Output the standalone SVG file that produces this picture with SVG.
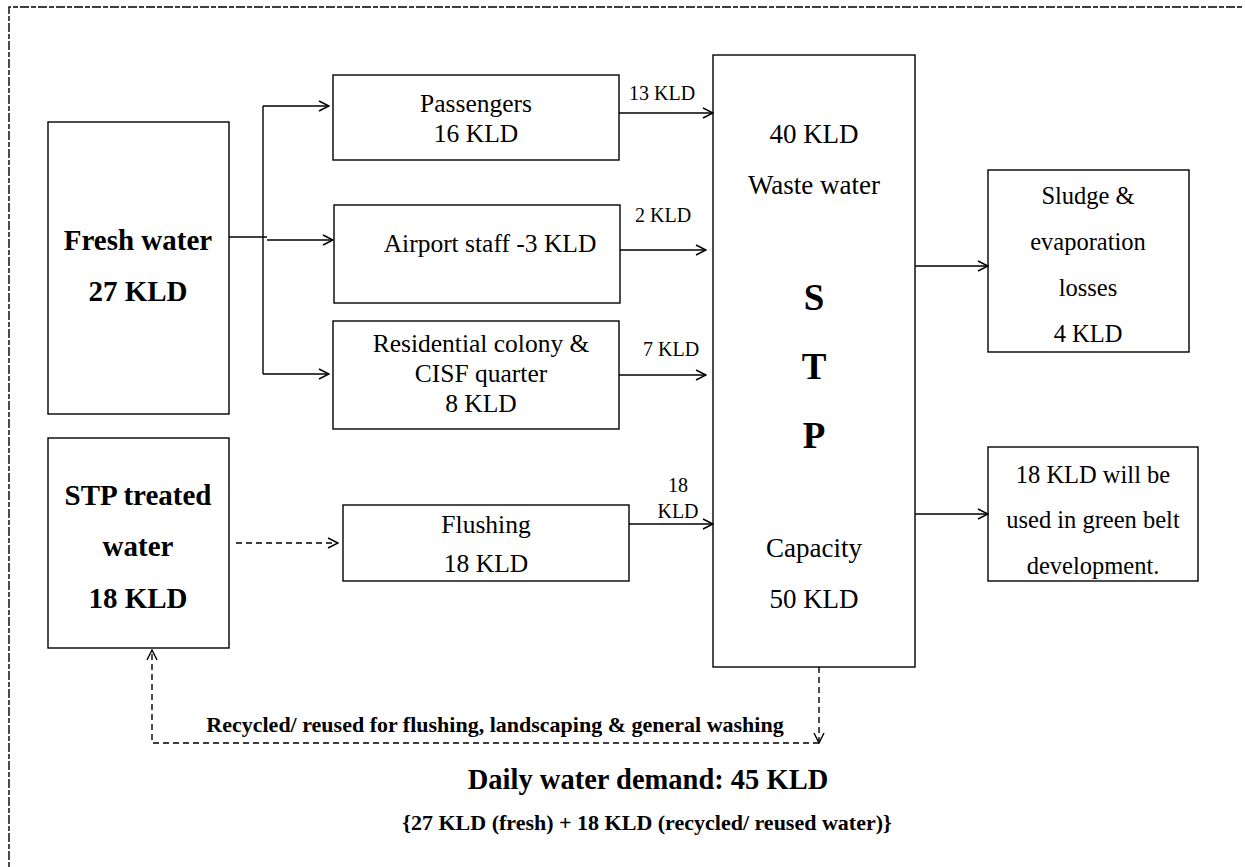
<svg xmlns="http://www.w3.org/2000/svg" width="1245" height="867" viewBox="0 0 1245 867">
<style>
text{font-family:'Liberation Serif','DejaVu Serif',serif;fill:#000}
.box{fill:#fff;stroke:#000;stroke-width:1.4}
.t{font-size:25.5px;text-anchor:middle}
.t2{font-size:24.5px;text-anchor:middle}
.tb{font-size:29px;font-weight:bold;text-anchor:middle}
.s{font-size:27px;text-anchor:middle}
.sb{font-size:37px;font-weight:bold;text-anchor:middle}
.l{font-size:20px}
.ln{fill:none;stroke:#000;stroke-width:1.4}
.d{fill:none;stroke:#000;stroke-width:1.4;stroke-dasharray:6 4}
</style>
<defs>
<marker id="ar" markerUnits="userSpaceOnUse" markerWidth="12" markerHeight="12" viewBox="0 0 12 12" refX="11" refY="6" orient="auto">
<path d="M1,1 L11,6 L1,11" fill="none" stroke="#000" stroke-width="1.4"/>
</marker>
</defs>
<rect width="1245" height="867" fill="#fff"/>
<path d="M9,867 L9,7 L1243,7" fill="none" stroke="#000" stroke-width="1.4" stroke-dasharray="5 2 9 2"/>

<g id="fresh">
<rect class="box" x="48" y="122" width="181" height="292"/>
<text class="tb" x="138" y="250">Fresh water</text>
<text class="tb" x="138" y="301">27 KLD</text>
</g>
<g id="treated">
<rect class="box" x="48" y="438" width="181" height="210"/>
<text class="tb" x="138" y="505">STP treated</text>
<text class="tb" x="138" y="556">water</text>
<text class="tb" x="138" y="608">18 KLD</text>
</g>
<g id="passengers">
<rect class="box" x="333" y="75" width="286" height="85"/>
<text class="t" x="476" y="112">Passengers</text>
<text class="t" x="476" y="142">16 KLD</text>
</g>
<g id="staff">
<rect class="box" x="334" y="205" width="286" height="98"/>
<text class="t" x="490" y="252">Airport staff -3 KLD</text>
</g>
<g id="residential">
<rect class="box" x="333" y="321" width="286" height="108"/>
<text class="t" x="481" y="352">Residential colony &amp;</text>
<text class="t" x="481" y="382">CISF quarter</text>
<text class="t" x="481" y="412">8 KLD</text>
</g>
<g id="flushing">
<rect class="box" x="343" y="505" width="286" height="76"/>
<text class="t" x="486" y="533">Flushing</text>
<text class="t" x="486" y="572">18 KLD</text>
</g>
<g id="stp">
<rect class="box" x="713" y="55" width="202" height="612"/>
<text class="s" x="814" y="143">40 KLD</text>
<text class="s" x="814" y="194">Waste water</text>
<text class="sb" x="814" y="310">S</text>
<text class="sb" x="814" y="379">T</text>
<text class="sb" x="814" y="448">P</text>
<text class="s" x="814" y="557">Capacity</text>
<text class="s" x="814" y="608">50 KLD</text>
</g>
<g id="sludge">
<rect class="box" x="988" y="170" width="201" height="182"/>
<text class="t2" x="1088" y="204">Sludge &amp;</text>
<text class="t2" x="1088" y="250">evaporation</text>
<text class="t2" x="1088" y="296">losses</text>
<text class="t2" x="1088" y="342">4 KLD</text>
</g>
<g id="greenbelt">
<rect class="box" x="988" y="447" width="210" height="134"/>
<text class="t2" x="1093" y="483">18 KLD will be</text>
<text class="t2" x="1093" y="528">used in green belt</text>
<text class="t2" x="1093" y="574">development.</text>
</g>

<g id="connectors">
<path class="ln" d="M229,237 L267,237"/>
<path class="ln" d="M263,106 L263,374"/>
<path class="ln" d="M263,106 L329,106" marker-end="url(#ar)"/>
<path class="ln" d="M267,240 L333,240" marker-end="url(#ar)"/>
<path class="ln" d="M263,374 L329,374" marker-end="url(#ar)"/>
<path class="ln" d="M619,113 L713,113" marker-end="url(#ar)"/>
<path class="ln" d="M620,250 L706,250" marker-end="url(#ar)"/>
<path class="ln" d="M619,375 L706,375" marker-end="url(#ar)"/>
<path class="ln" d="M629,524 L713,524" marker-end="url(#ar)"/>
<path class="ln" d="M915,266 L988,266" marker-end="url(#ar)"/>
<path class="ln" d="M915,514 L988,514" marker-end="url(#ar)"/>
<path class="d" d="M236,543 L338,543" marker-end="url(#ar)"/>
<path class="d" d="M819,667 L819,743" marker-end="url(#ar)"/>
<path class="d" d="M819,743 L152,743 L152,650" marker-end="url(#ar)"/>
<text class="l" x="629" y="100">13 KLD</text>
<text class="l" x="635" y="222">2 KLD</text>
<text class="l" x="643" y="356">7 KLD</text>
<text class="l" x="678" y="492" text-anchor="middle">18</text>
<text class="l" x="678" y="518" text-anchor="middle">KLD</text>
<text x="495" y="732" style="font-size:22px;font-weight:bold;text-anchor:middle">Recycled/ reused for flushing, landscaping &amp; general washing</text>
</g>
<text x="648" y="789" style="font-size:28.5px;font-weight:bold;text-anchor:middle">Daily water demand: 45 KLD</text>
<text x="647" y="830" style="font-size:22px;font-weight:bold;text-anchor:middle">{27 KLD (fresh) + 18 KLD (recycled/ reused water)}</text>
</svg>
